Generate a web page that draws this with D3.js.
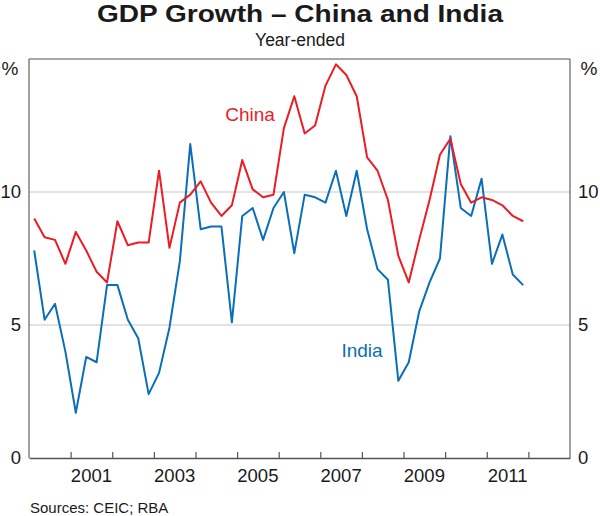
<!DOCTYPE html>
<html><head><meta charset="utf-8">
<script src="https://cdn.jsdelivr.net/npm/d3@7"></script>
<style>html,body{margin:0;padding:0;background:#fff;}svg{display:block;font-family:"Liberation Sans",Arial,sans-serif;}</style>
</head><body>
<svg id="c" width="600" height="516"></svg>
<script>
// Quarterly, 2000 Q1 to 2011 Q4, year-ended % growth
const startYear = 2000;
const china = [9.0,8.3,8.2,7.3,8.5,7.8,7.0,6.6,8.9,8.0,8.1,8.1,
  10.8,7.9,9.6,9.9,10.4,9.6,9.1,9.5,11.2,10.1,9.8,9.9,
  12.4,13.6,12.2,12.5,14.0,14.8,14.4,13.6,11.3,10.8,9.7,7.6,
  6.6,8.2,9.7,11.4,12.0,10.3,9.6,9.8,9.7,9.5,9.1,8.9];
const india = [7.8,5.2,5.8,4.0,1.7,3.8,3.6,6.5,6.5,5.2,4.5,2.4,
  3.2,4.9,7.4,11.8,8.6,8.7,8.7,5.1,9.1,9.4,8.2,9.4,
  10.0,7.7,9.9,9.8,9.6,10.8,9.1,10.8,8.6,7.1,6.7,2.9,
  3.6,5.5,6.6,7.5,12.1,9.4,9.1,10.5,7.3,8.4,6.9,6.5];
const yTicks = [0,5,10];
const gridValues = [5,10];
const xTickYears = [2001,2002,2003,2004,2005,2006,2007,2008,2009,2010,2011,2012];
const xLabelYears = [2001,2003,2005,2007,2009,2011];

const svg = d3.select("#c");
const L = 29, R = 570, T = 59, B = 458;
const x = d3.scaleLinear().domain([2000, 2013]).range([L, R]);
const y = d3.scaleLinear().domain([0, 15]).range([B, T]);
const red = "#ec1c24", blue = "#0a6eb9";

// gridlines
svg.append("g").selectAll("line").data(gridValues).join("line")
  .attr("x1", L).attr("x2", R).attr("y1", d => y(d)).attr("y2", d => y(d))
  .attr("stroke", "#c8c8c8").attr("stroke-width", 1.2);

// frame
svg.append("line").attr("x1", L).attr("x2", R).attr("y1", T).attr("y2", T).attr("stroke", "#8a8a8a").attr("stroke-width", 1.3);
svg.append("line").attr("x1", L).attr("x2", L).attr("y1", T).attr("y2", B).attr("stroke", "#6e6e6e").attr("stroke-width", 1.3);
svg.append("line").attr("x1", R).attr("x2", R).attr("y1", T).attr("y2", B).attr("stroke", "#6e6e6e").attr("stroke-width", 1.3);

// bottom axis with inward ticks
const xAxis = d3.axisBottom(x).tickValues(xTickYears).tickSizeInner(-6).tickSizeOuter(0).tickFormat("");
const gx = svg.append("g").attr("transform", `translate(0,${B})`).call(xAxis);
gx.select(".domain").attr("stroke", "#555").attr("stroke-width", 1.3);
gx.selectAll(".tick line").attr("stroke", "#555").attr("stroke-width", 1.2);

svg.append("g").selectAll("text").data(xLabelYears).join("text")
  .attr("x", d => x(d + 0.5)).attr("y", 482).attr("text-anchor", "middle")
  .attr("font-size", 18.5).attr("fill", "#1a1a1a").text(d => d);

// y tick labels both sides
const yl = d3.axisLeft(y).tickValues(yTicks).tickSize(0).tickPadding(8);
const gyl = svg.append("g").attr("transform", `translate(${L},0)`).call(yl);
gyl.select(".domain").remove();
gyl.selectAll("text").attr("font-size", 18.5).attr("fill", "#1a1a1a").attr("font-family", "Liberation Sans, Arial, sans-serif");
const yr = d3.axisRight(y).tickValues(yTicks).tickSize(0).tickPadding(8);
const gyr = svg.append("g").attr("transform", `translate(${R},0)`).call(yr);
gyr.select(".domain").remove();
gyr.selectAll("text").attr("font-size", 18.5).attr("fill", "#1a1a1a").attr("font-family", "Liberation Sans, Arial, sans-serif");

svg.append("text").attr("x", 10).attr("y", 75).attr("text-anchor", "middle").attr("font-size", 19).attr("fill", "#1a1a1a").text("%");
svg.append("text").attr("x", 589).attr("y", 75).attr("text-anchor", "middle").attr("font-size", 19).attr("fill", "#1a1a1a").text("%");

// lines
const line = d3.line().x((d, i) => x(startYear + (i + 0.5) / 4)).y(d => y(d));
svg.append("path").datum(india).attr("d", line).attr("fill", "none").attr("stroke", blue).attr("stroke-width", 2).attr("stroke-linejoin", "round");
svg.append("path").datum(china).attr("d", line).attr("fill", "none").attr("stroke", red).attr("stroke-width", 2).attr("stroke-linejoin", "round");

// series labels
svg.append("text").attr("x", 250).attr("y", 120.5).attr("text-anchor", "middle").attr("font-size", 19).attr("fill", red).text("China");
svg.append("text").attr("x", 362).attr("y", 356.5).attr("text-anchor", "middle").attr("font-size", 19).attr("fill", blue).text("India");

// titles
svg.append("text").attr("x", 300).attr("y", 21.5).attr("text-anchor", "middle").attr("font-size", 23).attr("font-weight", "bold")
  .attr("fill", "#1a1a1a").attr("textLength", 406).attr("lengthAdjust", "spacingAndGlyphs").text("GDP Growth – China and India");
svg.append("text").attr("x", 300).attr("y", 46).attr("text-anchor", "middle").attr("font-size", 17.5).attr("fill", "#1a1a1a").text("Year-ended");
svg.append("text").attr("x", 30).attr("y", 513).attr("font-size", 15).attr("fill", "#1a1a1a").text("Sources: CEIC; RBA");
</script>
</body></html>
